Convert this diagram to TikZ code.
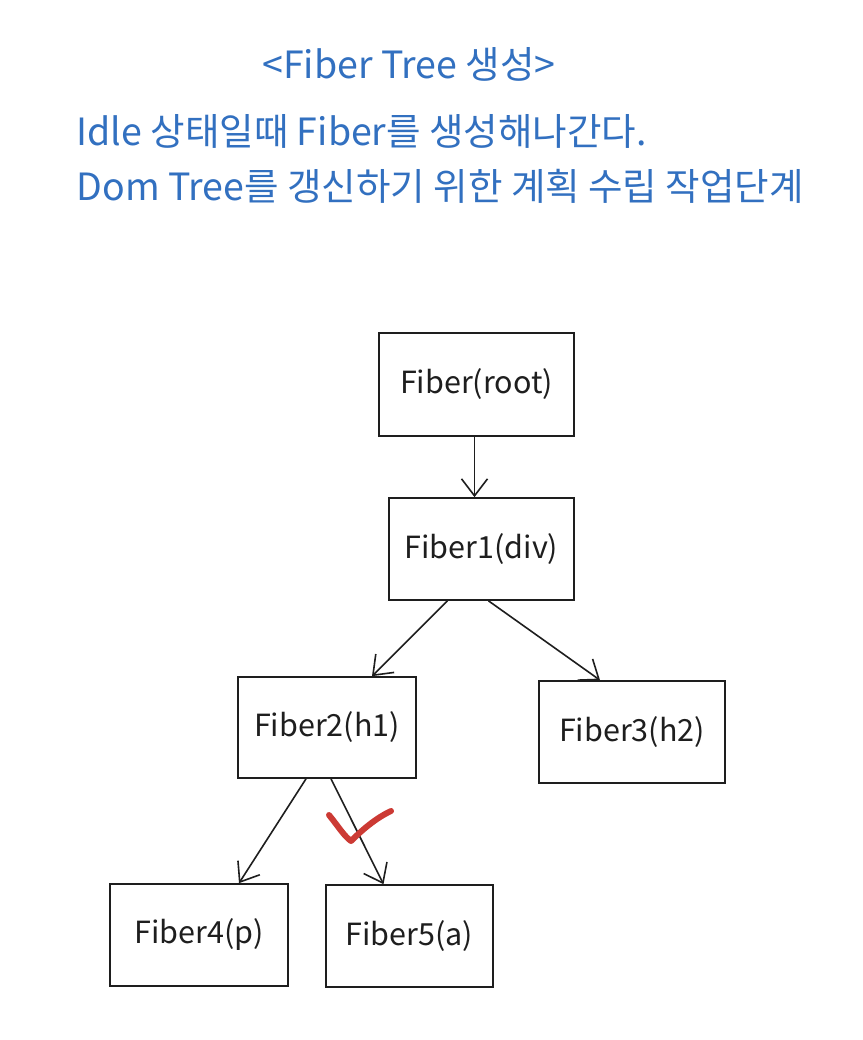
\documentclass[tikz,border=0pt]{standalone}
\usepackage{fontspec}
\setmainfont{Noto Sans CJK KR}
\usetikzlibrary{arrows.meta}
\definecolor{titleblue}{RGB}{50,112,192}
\definecolor{inkdark}{RGB}{30,30,30}
\definecolor{checkred}{RGB}{204,58,52}

\tikzset{
  fiberbox/.style={draw=inkdark,line width=1.7pt,inner sep=0pt,
                   font=\fontsize{30.5}{36}\selectfont,text=inkdark},
  fiberlink/.style={draw=inkdark,line width=1.6pt,
                    -{Straight Barb[length=17pt,width=26pt,line width=1.6pt]}},
  headline/.style={text=titleblue,font=\fontsize{37.5}{44}\selectfont}
}

\begin{document}
\begin{tikzpicture}[x=1pt,y=-1pt]
        \useasboundingbox[fill=white] (0,0) rectangle (862,1040);
        % heading
        \node[headline] (title) at (409,64) {<Fiber Tree 생성>};
        \node[headline,anchor=west] (lineA) at (73,131)
          {Idle 상태일때 Fiber를 생성해나간다.};
        \node[headline,anchor=west] (lineB) at (73,186)
          {Dom Tree를 갱신하기 위한 계획 수립 작업단계};
        % fiber tree
        \node[fiberbox,minimum width=195pt,minimum height=103pt]
          (root) at (476.5,384.5) {Fiber(root)};
        \node[fiberbox,minimum width=185pt,minimum height=102pt]
          (div) at (481.5,549) {Fiber1(div)};
        \node[fiberbox,minimum width=178pt,minimum height=101pt]
          (hone) at (327,727.5) {Fiber2(h1)};
        \node[fiberbox,minimum width=186pt,minimum height=102pt]
          (htwo) at (632,732) {Fiber3(h2)};
        \node[fiberbox,minimum width=178pt,minimum height=102pt]
          (para) at (199,935) {Fiber4(p)};
        \node[fiberbox,minimum width=167pt,minimum height=102pt]
          (anchor) at (409.5,936) {Fiber5(a)};
        \draw[fiberlink] ([xshift=-2pt]root.south) -- ([xshift=-7pt]div.north);
        \draw[fiberlink] ([xshift=-34pt]div.south) -- ([xshift=45pt]hone.north);
        \draw[fiberlink] ([xshift=7pt]div.south) -- ([xshift=-32pt]htwo.north);
        \draw[fiberlink] ([xshift=-21pt]hone.south) -- ([xshift=40pt]para.north);
        \draw[fiberlink] ([xshift=4pt]hone.south) -- ([xshift=-26pt]anchor.north);
        % check mark
        \draw[checkred,line width=6pt,line cap=round,line join=round]
          (329,815) .. controls (338,826) and (344,836) .. (351,841)
          .. controls (362,830) and (376,818) .. (391,811);
      \end{tikzpicture}
\end{document}
